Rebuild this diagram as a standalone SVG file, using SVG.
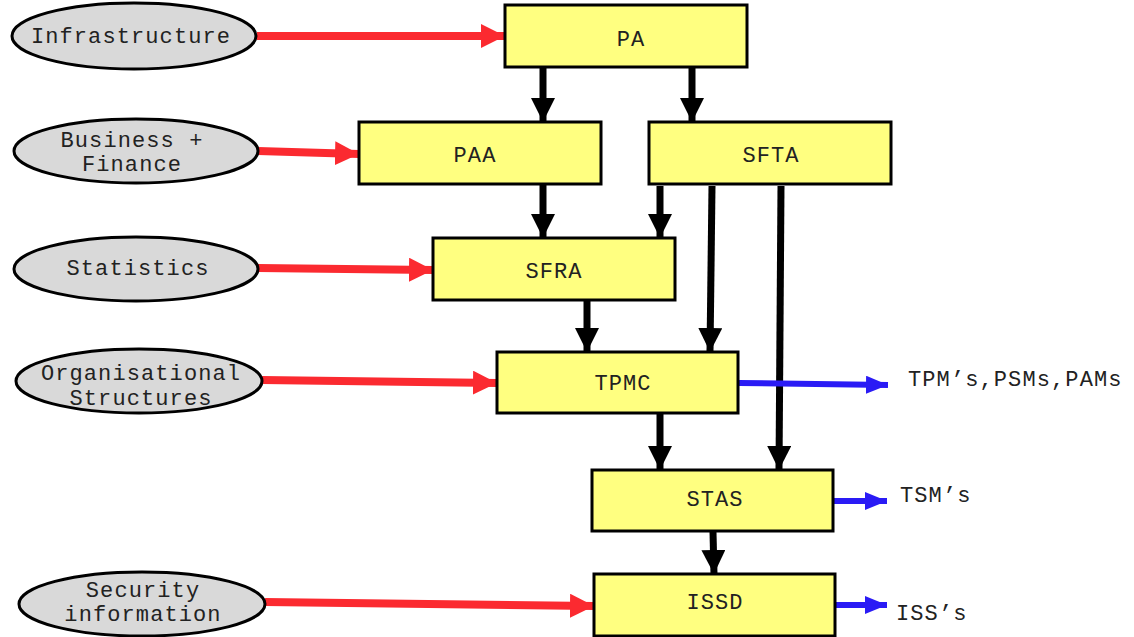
<svg xmlns="http://www.w3.org/2000/svg" width="1134" height="637" viewBox="0 0 1134 637">
<style>
  .ell { fill: #d9d9d9; stroke: #000; stroke-width: 3; }
  .box { fill: #ffff80; stroke: #000; stroke-width: 3; }
  text { font-family: "Liberation Mono", "Courier New", monospace; font-size: 22px; letter-spacing: 1.1px; fill: #222; text-anchor: middle; }
  text.out { text-anchor: start; }
  .red { stroke: #fb2a30; stroke-width: 8; fill: none; marker-end: url(#hr); }
  .blk { stroke: #000; stroke-width: 7; fill: none; marker-end: url(#hb); }
  .blu { stroke: #2a1bf5; stroke-width: 6; fill: none; marker-end: url(#hu); }
</style>
<defs>
  <marker id="hr" markerUnits="userSpaceOnUse" markerWidth="24" markerHeight="24" refX="24" refY="12" orient="auto">
    <path d="M0,0 L24,12 L0,24 Z" fill="#fb2a30"/>
  </marker>
  <marker id="hb" markerUnits="userSpaceOnUse" markerWidth="24" markerHeight="24" refX="24" refY="12" orient="auto">
    <path d="M0,0 L24,12 L0,24 Z" fill="#000"/>
  </marker>
  <marker id="hu" markerUnits="userSpaceOnUse" markerWidth="22" markerHeight="18" refX="22" refY="9" orient="auto">
    <path d="M0,0 L22,9 L0,18 Z" fill="#2a1bf5"/>
  </marker>
</defs>
<rect width="1134" height="637" fill="#fff"/>

<g id="connectors">
  <path class="red" d="M257,36 L505,36"/>
  <path class="red" d="M258,151 L359,154"/>
  <path class="red" d="M258,268 L433,270"/>
  <path class="red" d="M262,380 L497,383"/>
  <path class="red" d="M265,602 L594,606"/>

  <path class="blk" d="M543,67 L543,122"/>
  <path class="blk" d="M692,67 L692,122"/>
  <path class="blk" d="M543,184 L543,238"/>
  <path class="blk" d="M660,186 L660,238"/>
  <path class="blk" d="M712,186 L710,352"/>
  <path class="blk" d="M781,186 L779,470"/>
  <path class="blk" d="M587,301 L587,352"/>
  <path class="blk" d="M660,414 L660,470"/>
  <path class="blk" d="M713,532 L714,574"/>

  <path class="blu" d="M739,383 L888,385"/>
  <path class="blu" d="M834,501 L887,501"/>
  <path class="blu" d="M836,605 L887,605"/>
</g>

<g id="n-infrastructure">
  <ellipse class="ell" cx="134" cy="36" rx="122" ry="33"/>
  <text x="131" y="43">Infrastructure</text>
</g>
<g id="n-business">
  <ellipse class="ell" cx="136" cy="151" rx="122" ry="32"/>
  <text x="132" y="147">Business +</text>
  <text x="132" y="171">Finance</text>
</g>
<g id="n-statistics">
  <ellipse class="ell" cx="136" cy="269" rx="122" ry="32"/>
  <text x="138" y="275">Statistics</text>
</g>
<g id="n-organisational">
  <ellipse class="ell" cx="139" cy="381" rx="123" ry="32"/>
  <text x="141" y="380">Organisational</text>
  <text x="141" y="405">Structures</text>
</g>
<g id="n-security">
  <ellipse class="ell" cx="142" cy="604" rx="123" ry="32"/>
  <text x="143" y="597">Security</text>
  <text x="143" y="621">information</text>
</g>

<g id="n-pa">
  <rect class="box" x="505" y="5" width="242" height="62"/>
  <text x="631" y="46">PA</text>
</g>
<g id="n-paa">
  <rect class="box" x="359" y="122" width="242" height="62"/>
  <text x="475" y="162">PAA</text>
</g>
<g id="n-sfta">
  <rect class="box" x="649" y="122" width="242" height="62"/>
  <text x="771" y="162">SFTA</text>
</g>
<g id="n-sfra">
  <rect class="box" x="433" y="238" width="242" height="62"/>
  <text x="554" y="278">SFRA</text>
</g>
<g id="n-tpmc">
  <rect class="box" x="497" y="352" width="241" height="61"/>
  <text x="623" y="390">TPMC</text>
</g>
<g id="n-stas">
  <rect class="box" x="592" y="470" width="241" height="61"/>
  <text x="715" y="506">STAS</text>
</g>
<g id="n-issd">
  <rect class="box" x="594" y="574" width="241" height="62"/>
  <text x="715" y="609">ISSD</text>
</g>

<g id="outputs">
  <text class="out" x="908" y="386">TPM’s,PSMs,PAMs</text>
  <text class="out" x="900" y="502">TSM’s</text>
  <text class="out" x="896" y="620">ISS’s</text>
</g>
</svg>
